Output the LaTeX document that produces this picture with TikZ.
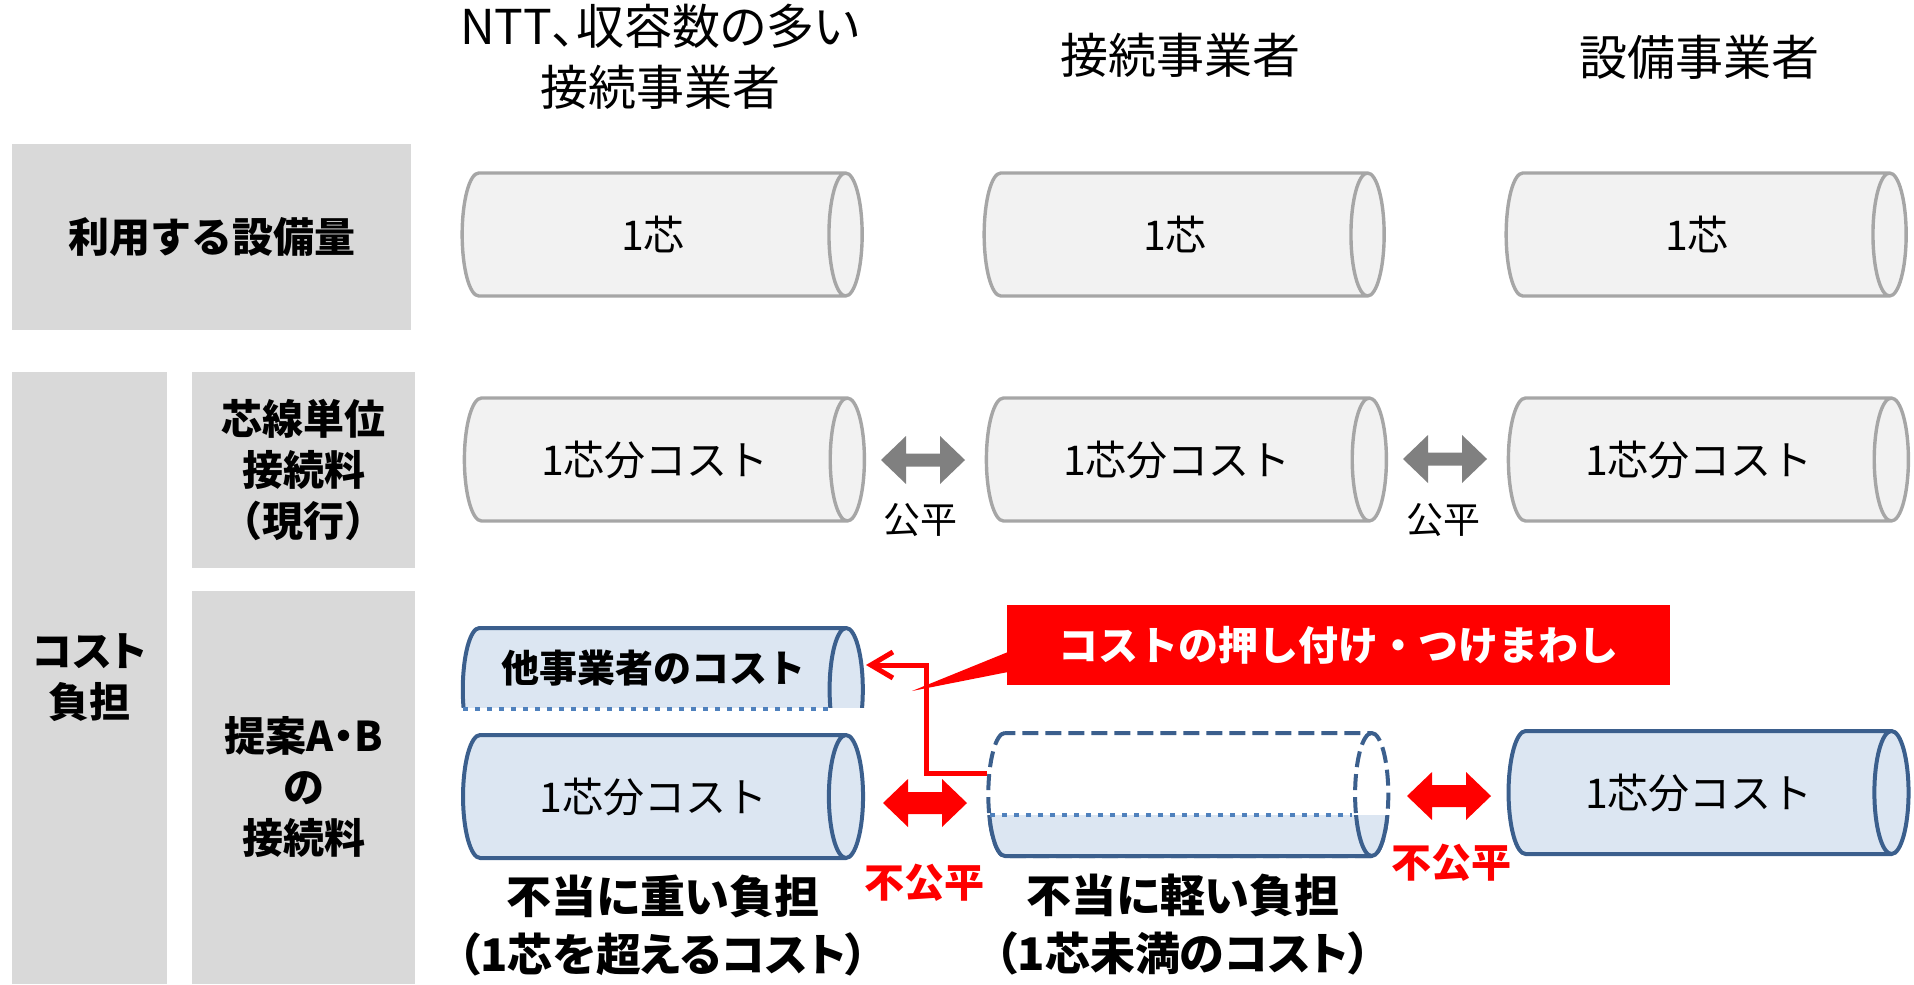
\documentclass[tikz,border=0pt]{standalone}
\usepackage{fontspec}
\setmainfont{Noto Sans CJK JP}
\newfontfamily\propfont{Noto Sans CJK JP}[RawFeature=+palt]
\usetikzlibrary{shapes.geometric,arrows.meta}
\definecolor{boxgray}{HTML}{D9D9D9}
\definecolor{pipegray}{HTML}{F2F2F2}
\definecolor{pipeline}{HTML}{A6A6A6}
\definecolor{pipeblue}{HTML}{DCE6F2}
\definecolor{pipeedge}{HTML}{3B5F8D}
\definecolor{levelblue}{HTML}{4F81BD}
\definecolor{arrowgray}{HTML}{808080}
\definecolor{alertred}{HTML}{FF0000}

\begin{document}
\begin{tikzpicture}[x=0.5pt, y=-0.5pt,
    labelbox/.style = {fill=boxgray, inner sep=0pt, align=center,
        font=\bfseries\fontsize{20.5}{25.5}\selectfont},
    pipe/.style = {cylinder, aspect=0.9, minimum height=200pt, minimum width=61.5pt,
        inner sep=0pt, font=\fontsize{20.5}{24}\selectfont},
    graypipe/.style = {pipe, draw=pipeline, fill=pipegray, line width=1.7pt},
    bluepipe/.style = {pipe, draw=pipeedge, fill=pipeblue, line width=2pt},
    level/.style = {levelblue, line width=2pt, dash pattern=on 2.5pt off 3.5pt},
    head/.style = {align=center, font=\fontsize{24}{30.5}\selectfont},
    burden/.style = {align=center, font=\propfont\bfseries\fontsize{22.5}{29}\selectfont},
    fairtxt/.style = {font=\fontsize{18.5}{22}\selectfont},
    unfairtxt/.style = {text=alertred, font=\bfseries\fontsize{20}{24}\selectfont},
    pics/fatarrow/.style = {code={
        \fill[pic actions] (-42,0) -- (-17,-24) -- (-17,-#1) -- (17,-#1) -- (17,-24)
            -- (42,0) -- (17,24) -- (17,#1) -- (-17,#1) -- (-17,24) -- cycle;}}
  ]
  \useasboundingbox (0,0) rectangle (1914,984);

  % column heads
  \node[head] (ntt) at (660,57) {{\propfont NTT、収容数の多い}\\接続事業者};
  \node[head] (carrier) at (1180,55) {接続事業者};
  \node[head] (facility) at (1699,57) {設備事業者};

  % row labels
  \node[labelbox, minimum width=199.5pt, minimum height=93pt] (usage) at (211.5,237) {利用する設備量};
  \node[labelbox, minimum width=77.5pt, minimum height=306pt, font=\propfont\bfseries\fontsize{20.5}{25.5}\selectfont] (burdencol) at (89.5,678) {コスト\\負担};
  \node[labelbox, minimum width=111.5pt, minimum height=98pt] (current) at (303.5,470) {芯線単位\\接続料\\（現行）};
  \node[labelbox, minimum width=111.5pt, minimum height=196.5pt, font=\propfont\bfseries\fontsize{20.5}{25.5}\selectfont] (proposal) at (303.5,787.5) {提案A・B\\の\\接続料};

  % equipment used
  \node[graypipe] (useA) at (653,234.5) {1芯};
  \node[graypipe] (useB) at (1175,234.5) {1芯};
  \node[graypipe] (useC) at (1697,234.5) {1芯};

  % current charge
  \node[graypipe] (nowA) at (655,459.5) {1芯分コスト};
  \node[graypipe] (nowB) at (1177,459.5) {1芯分コスト};
  \node[graypipe] (nowC) at (1699,459.5) {1芯分コスト};
  \pic[fill=arrowgray] (fairA) at (923,460) {fatarrow=6.5};
  \pic[fill=arrowgray] (fairB) at (1445,459) {fatarrow=6.5};
  \node[fairtxt] (fairAl) at (920,520) {公平};
  \node[fairtxt] (fairBl) at (1443,520) {公平};

  % proposed charge
  \begin{scope}
    \clip (440,600) rectangle (880,707);
    \node[bluepipe] (other) at (653.5,689.5) {\phantom{1芯}};
  \end{scope}
  \node[font=\bfseries\fontsize{19}{22}\selectfont] (othertxt) at (653,668) {他事業者のコスト};
  \draw[level] (463,709) -- (830,709);

  \node[bluepipe] (heavyA) at (653.5,796.5) {1芯分コスト};
  \node[bluepipe, fill=white, dash pattern=on 8pt off 3.5pt] (lightB) at (1179,794.5) {\phantom{1芯}};
  \begin{scope}
    \clip (960,815) rectangle (1410,880);
    \node[bluepipe] at (1179,794.5) {\phantom{1芯}};
  \end{scope}
  \draw[level] (990,815) -- (1352,815);
  \node[bluepipe] (fairC) at (1699,792.5) {1芯分コスト};

  \pic[fill=alertred] (unfairA) at (925,803) {fatarrow=11};
  \pic[fill=alertred] (unfairB) at (1449,796) {fatarrow=11};
  \node[unfairtxt] (unfairAl) at (924,883) {不公平};
  \node[unfairtxt] (unfairBl) at (1451,863) {不公平};

  \node[burden] (heavy) at (663,926) {不当に重い負担\\（1芯を超えるコスト）};
  \node[burden] (light) at (1183,925) {不当に軽い負担\\（1芯未満のコスト）};

  % cost shifting callout
  \node[fill=alertred, text=white, inner sep=0pt, minimum width=331.5pt, minimum height=40pt,
      font=\bfseries\fontsize{20}{24}\selectfont] (push) at (1338.5,645) {コストの押し付け・つけまわし};
  \fill[alertred] (1008,652) -- (912,691) -- (1008,672) -- cycle;
  \coordinate (pushfrom) at (987,773);
  \coordinate (pushto) at (866,665);
  \draw[alertred, line width=2.5pt, -{Straight Barb[length=11pt,width=13pt]}]
      (pushfrom) -| (926,665) -- (pushto);
\end{tikzpicture}
\end{document}
